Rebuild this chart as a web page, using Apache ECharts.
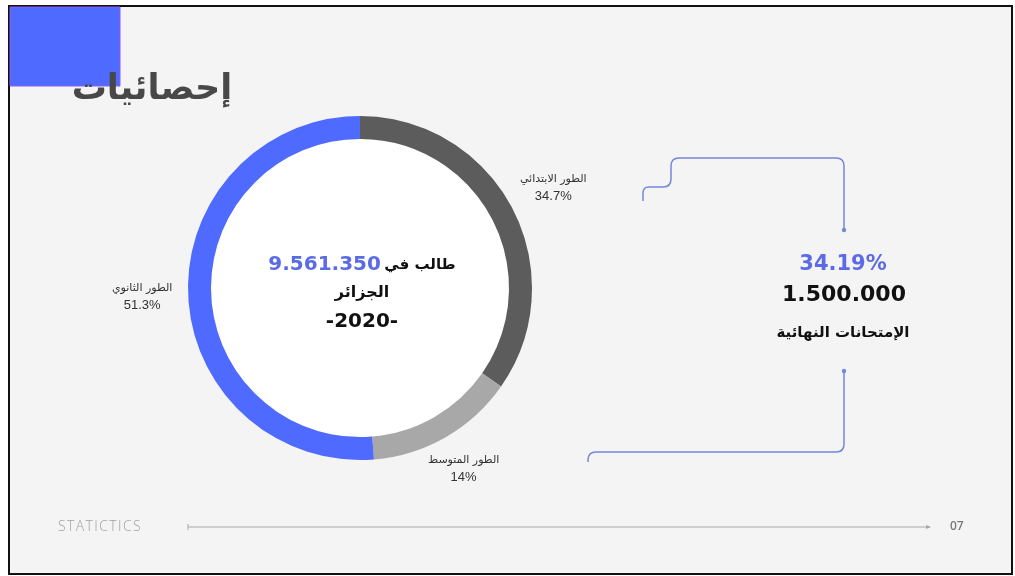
<!DOCTYPE html>
<html>
<head>
<meta charset="utf-8">
<script src="https://cdn.jsdelivr.net/npm/echarts@6/dist/echarts.min.js"></script>
<style>
  html, body { margin: 0; padding: 0; background: #fff; }
  #chart { width: 1015px; height: 576px; }
</style>
</head>
<body>
<div id="chart"></div>
<script>
// data
const stageNames = ['الطور الابتدائي', 'الطور المتوسط', 'الطور الثانوي']
const stageShares = [34.7, 14, 51.3]
const stageColors = ['#5c5c5c', '#a8a8a8', '#4f6bff']
const totalStudents = '9.561.350'
const year = '2020'
const examShare = '34.19%'
const examCount = '1.500.000'

const CX = 360, CY = 288
const lineColor = '#7487dc'
const labelGap = [46, 36, 46] // outer label distance per slice

// turn a small list of M/L/Q steps into graphic lines + curves
const connector = (steps) => {
    let out = []
    let px = 0, py = 0
    steps.forEach((s) => {
        if (s[0] === 'L') {
            out.push({ type: 'line', z: 2, shape: { x1: px, y1: py, x2: s[1], y2: s[2] },
                       style: { stroke: lineColor, lineWidth: 1.5 } })
        } else if (s[0] === 'Q') {
            out.push({ type: 'bezierCurve', z: 2,
                       shape: { x1: px, y1: py, cpx1: s[1], cpy1: s[2], x2: s[3], y2: s[4] },
                       style: { stroke: lineColor, lineWidth: 1.5, fill: null } })
        }
        px = s[s.length - 2]
        py = s[s.length - 1]
    })
    return out
}

const topLink = connector([
    ['M', 643, 201], ['L', 643, 193], ['Q', 643, 187, 649, 187], ['L', 663, 187],
    ['Q', 671, 187, 671, 179], ['L', 671, 166], ['Q', 671, 158, 679, 158],
    ['L', 836, 158], ['Q', 844, 158, 844, 166], ['L', 844, 230]
])
const bottomLink = connector([
    ['M', 844, 371], ['L', 844, 444], ['Q', 844, 452, 836, 452],
    ['L', 596, 452], ['Q', 588, 452, 588, 460], ['L', 588, 462]
])

let eChart = echarts.init(document.getElementById('chart'))

let option = {
    backgroundColor: '#fff',
    animation: false,
    graphic: [
        // slide frame
        { type: 'rect', z: 0, shape: { x: 9, y: 6, width: 1003, height: 568 },
          style: { fill: '#f4f4f4', stroke: '#111', lineWidth: 2 } },
        { type: 'rect', z: 1, shape: { x: 10, y: 7, width: 110, height: 79 },
          style: { fill: '#4f6bff', stroke: '#8d5cf6', lineWidth: 1 } },
        { type: 'text', z: 10, x: 152, y: 90,
          style: { text: 'إحصائيات', font: 'bold 35px "DejaVu Sans"', fill: '#484848',
                   align: 'center', verticalAlign: 'middle' } },
        // white hole of the donut
        { type: 'circle', z: 1, shape: { cx: CX, cy: CY, r: 149 }, style: { fill: '#fff' } },
        // centre text
        { type: 'text', z: 10, x: CX + 2, y: 265,
          style: { text: '{n|' + totalStudents + '} {a|طالب في}', align: 'center', verticalAlign: 'middle',
                   rich: {
                       n: { font: 'bold 20px "DejaVu Sans"', fill: '#5b6be6' },
                       a: { font: 'bold 15px "DejaVu Sans"', fill: '#111' }
                   } } },
        { type: 'text', z: 10, x: CX + 2, y: 293,
          style: { text: 'الجزائر', font: 'bold 16px "DejaVu Sans"', fill: '#111',
                   align: 'center', verticalAlign: 'middle' } },
        { type: 'text', z: 10, x: CX + 2, y: 322,
          style: { text: '-' + year + '-', font: 'bold 20px "DejaVu Sans"', fill: '#111',
                   align: 'center', verticalAlign: 'middle' } },
        // right side block
        { type: 'text', z: 10, x: 843, y: 265,
          style: { text: examShare, font: 'bold 21px "DejaVu Sans"', fill: '#5b6be6',
                   align: 'center', verticalAlign: 'middle' } },
        { type: 'text', z: 10, x: 844, y: 295,
          style: { text: examCount, font: 'bold 22px "DejaVu Sans"', fill: '#111',
                   align: 'center', verticalAlign: 'middle' } },
        { type: 'text', z: 10, x: 843, y: 333,
          style: { text: 'الإمتحانات النهائية', font: 'bold 15px "DejaVu Sans"', fill: '#111',
                   align: 'center', verticalAlign: 'middle' } }
    ].concat(topLink, bottomLink, [
        { type: 'circle', z: 2, shape: { cx: 844, cy: 230, r: 2.2 }, style: { fill: lineColor } },
        { type: 'circle', z: 2, shape: { cx: 844, cy: 371, r: 2.2 }, style: { fill: lineColor } },
        // footer
        { type: 'text', z: 10, x: 58, y: 527,
          style: { text: 'S\u200AT\u200AA\u200AT\u200AI\u200AC\u200AT\u200AI\u200AC\u200AS', font: '300 14px "Open Sans"', fill: '#a0a0a0',
                   align: 'left', verticalAlign: 'middle' } },
        { type: 'line', z: 2, shape: { x1: 188, y1: 527, x2: 930, y2: 527 },
          style: { stroke: '#a8a8a8', lineWidth: 1 } },
        { type: 'line', z: 2, shape: { x1: 188, y1: 524, x2: 188, y2: 530 },
          style: { stroke: '#a8a8a8', lineWidth: 1 } },
        { type: 'polygon', z: 2, shape: { points: [[926, 525], [931, 527], [926, 529]] },
          style: { fill: '#a8a8a8' } },
        { type: 'text', z: 10, x: 950, y: 527,
          style: { text: '07', font: '600 12px "Open Sans"', fill: '#7a7a7a',
                   align: 'left', verticalAlign: 'middle' } }
    ]),
    series: [
        {
            type: 'pie',
            z: 3,
            center: [CX, CY],
            radius: [149, 172],
            startAngle: 90,
            clockwise: true,
            avoidLabelOverlap: false,
            silent: true,
            label: {
                show: true,
                position: 'outside',
                distanceToLabelLine: 0,
                formatter: function (p) { return '{n|' + p.name + '}\n{v|' + p.value + '%}' },
                rich: {
                    n: { fontFamily: '"DejaVu Sans"', fontSize: 11, color: '#333', align: 'center', lineHeight: 18 },
                    v: { fontFamily: '"Liberation Sans"', fontSize: 13, color: '#333', align: 'center', lineHeight: 17 }
                }
            },
            labelLine: { show: false, length: 46, length2: 0 },
            labelLayout: function () { return { align: 'center' } },
            data: stageNames.map(function (n, i) {
                return { name: n, value: stageShares[i], itemStyle: { color: stageColors[i] },
                         labelLine: { show: false, length: labelGap[i], length2: 0 } }
            })
        }
    ]
}

eChart.setOption(option)
</script>
</body>
</html>
